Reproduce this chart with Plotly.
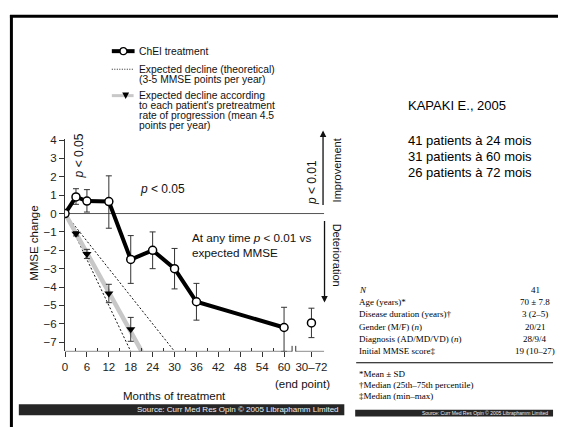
import plotly.graph_objects as go

W, H = 561, 427

# ---------------- data ----------------
chei_months = [0, 3, 6, 12, 18, 24, 30, 36, 60]
chei_values = [0, 0.9, 0.68, 0.65, -2.5, -2.0, -3.0, -4.8, -6.2]
chei_err_plus = [0, 0.45, 0.62, 1.4, 1.3, 1.0, 1.1, 1.0, 1.1]
chei_err_minus = [0, 0.4, 0.6, 1.45, 1.3, 1.0, 1.1, 1.0, 1.3]

endpoint_month = [67.5]
endpoint_value = [-5.95]
endpoint_err = [0.8]

patient_months = [3, 6, 12, 18]
patient_values = [-1.1, -2.2, -4.35, -6.3]
patient_err = [0.12, 0.25, 0.5, 0.65]

patient_trend_months = [0, 21]
patient_trend_values = [0, -7.5]

theory5_months = [0, 18]
theory5_values = [0, -7.5]
theory3_months = [0, 30]
theory3_values = [0, -7.5]

x_tick_vals = [0, 6, 12, 18, 24, 30, 36, 42, 48, 54, 60, 67.5]
x_tick_text = ["0", "6", "12", "18", "24", "30", "36", "42", "48", "54", "60", "30–72"]
x_minor_vals = [3, 9, 15, 21, 27, 33, 39, 45, 51, 57]
y_tick_vals = [-7, -6, -5, -4, -3, -2, -1, 0, 1, 2, 3, 4]

legend_lines = [
    "ChEI treatment",
    "Expected decline (theoretical)",
    "(3-5 MMSE points per year)",
    "Expected decline according",
    "to each patient's pretreatment",
    "rate of progression (mean 4.5",
    "points per year)",
]

study_lines = ["KAPAKI E., 2005", "41 patients à 24 mois", "31 patients à 60 mois", "26 patients à 72 mois"]

table_labels = ["<i>N</i>", "Age (years)*", "Disease duration (years)†", "Gender (M/F) (<i>n</i>)",
                "Diagnosis (AD/MD/VD) (<i>n</i>)", "Initial MMSE score‡"]
table_values = ["41", "70 ± 7.8", "3 (2–5)", "20/21", "28/9/4", "19 (10–27)"]
table_notes = ["*Mean ± SD", "†Median (25th–75th percentile)", "‡Median (min–max)"]

SOURCE = "Source: Curr Med Res Opin © 2005 Libraphamm Limited"

# ---------------- geometry helpers ----------------
def px(x):
    return x / W

def py(y):
    return 1 - y / H

X0_PX, PX_PER_MONTH = 62.7, 3.69
X_MAX = 71
Y_LOW, Y_HIGH = -7.5, 4.05
Y0_PX, PX_PER_UNIT = 211.0, 18.6

x_dom = [px(X0_PX), px(X0_PX + X_MAX * PX_PER_MONTH)]
y_dom = [py(Y0_PX - Y_LOW * PX_PER_UNIT), py(Y0_PX - Y_HIGH * PX_PER_UNIT)]

SANS = "Liberation Sans, Arial, sans-serif"
SERIF = "Liberation Serif, Times New Roman, serif"

fig = go.Figure()

# theoretical decline lines
for xm, yv in [(theory5_months, theory5_values), (theory3_months, theory3_values)]:
    fig.add_trace(go.Scatter(x=xm, y=yv, mode="lines",
                             line=dict(color="#111", width=1, dash="2px,2px"),
                             hoverinfo="skip"))

# patient-based trend (gray)
fig.add_trace(go.Scatter(x=patient_trend_months, y=patient_trend_values, mode="lines",
                         line=dict(color="#c8c8c8", width=4.5), hoverinfo="skip"))

# triangles
fig.add_trace(go.Scatter(x=patient_months, y=patient_values, mode="markers",
                         marker=dict(symbol="triangle-down", size=8, color="#000"),
                         error_y=dict(type="data", array=patient_err, color="#333",
                                      thickness=1, width=3)))

# zero reference line
fig.add_trace(go.Scatter(x=[0, X_MAX], y=[0, 0], mode="lines",
                         line=dict(color="#555", width=1), hoverinfo="skip"))

# ChEI treatment
fig.add_trace(go.Scatter(x=chei_months, y=chei_values, mode="lines+markers",
                         line=dict(color="#000", width=4),
                         marker=dict(symbol="circle", size=8, color="white",
                                     line=dict(color="#000", width=1.5)),
                         error_y=dict(type="data", symmetric=False, array=chei_err_plus,
                                      arrayminus=chei_err_minus, color="#333",
                                      thickness=1, width=3)))

# end point
fig.add_trace(go.Scatter(x=endpoint_month, y=endpoint_value, mode="markers",
                         marker=dict(symbol="circle", size=8, color="white",
                                     line=dict(color="#000", width=1.5)),
                         error_y=dict(type="data", array=endpoint_err, color="#333",
                                      thickness=1, width=3)))

shapes = []
# x axis line with break
BREAK_A, BREAK_B = 62.2, 63.2
shapes.append(dict(type="line", xref="x", yref="y", x0=0, x1=BREAK_A, y0=Y_LOW, y1=Y_LOW,
                   line=dict(color="#333", width=1)))
shapes.append(dict(type="line", xref="x", yref="y", x0=BREAK_B, x1=X_MAX, y0=Y_LOW, y1=Y_LOW,
                   line=dict(color="#333", width=1)))
for b in (BREAK_A, BREAK_B):
    shapes.append(dict(type="line", xref="x", yref="y", x0=b, x1=b, y0=Y_LOW - 0.3, y1=Y_LOW + 0.3,
                       line=dict(color="#333", width=1)))

# slide border
shapes.append(dict(type="line", xref="paper", yref="paper", x0=px(7), x1=1, y0=py(11.5), y1=py(11.5),
                   line=dict(color="#000", width=3)))
shapes.append(dict(type="line", xref="paper", yref="paper", x0=px(8.5), x1=px(8.5), y0=py(10), y1=0,
                   line=dict(color="#000", width=3)))

# source bars
shapes.append(dict(type="rect", xref="paper", yref="paper", x0=px(16), x1=px(345), y0=py(415), y1=py(404),
                   fillcolor="#262626", line=dict(width=0)))
shapes.append(dict(type="rect", xref="paper", yref="paper", x0=px(356), x1=px(556), y0=py(416.5), y1=py(409.5),
                   fillcolor="#262626", line=dict(width=0)))

# table rule
shapes.append(dict(type="line", xref="paper", yref="paper", x0=px(357), x1=px(556), y0=py(362), y1=py(362),
                   line=dict(color="#000", width=1.2)))

# legend keys
shapes.append(dict(type="line", xref="paper", yref="paper", x0=px(110), x1=px(133), y0=py(46.7), y1=py(46.7),
                   line=dict(color="#000", width=4)))
shapes.append(dict(type="circle", xref="paper", yref="paper", x0=px(118.3), x1=px(125.3),
                   y0=py(50.2), y1=py(43.2), fillcolor="white", line=dict(color="#000", width=1.3)))
shapes.append(dict(type="line", xref="paper", yref="paper", x0=px(110), x1=px(132), y0=py(65), y1=py(65),
                   line=dict(color="#222", width=1, dash="1px,1.5px")))
shapes.append(dict(type="line", xref="paper", yref="paper", x0=px(110), x1=px(132), y0=py(91.7), y1=py(91.7),
                   line=dict(color="#c8c8c8", width=3)))
shapes.append(dict(type="path", xref="paper", yref="paper",
                   path=f"M {px(120.5)} {py(88.5)} L {px(127.5)} {py(88.5)} L {px(124)} {py(95)} Z",
                   fillcolor="#000", line=dict(width=0)))

ann = []

def text(x, y, s, size, xanchor="left", family=SANS, color="#111", angle=0, yanchor="middle"):
    ann.append(dict(x=px(x), y=py(y), xref="paper", yref="paper", text=s, showarrow=False,
                    xanchor=xanchor, yanchor=yanchor, textangle=angle,
                    font=dict(family=family, size=size, color=color)))

# legend text
legend_y = [46.7, 65, 75.2, 91.7, 101.8, 111.9, 122]
for s, y in zip(legend_lines, legend_y):
    text(135.5, y, s, 10.3)

# in-plot annotations
text(77, 153, "<i>p</i> < 0.05", 12, xanchor="center", angle=-90)
text(136, 186.5, "<i>p</i> < 0.05", 12)
text(189, 235, "At any time <i>p</i> < 0.01 vs", 11.7)
text(189, 250, "expected MMSE", 11.7)

# right side arrows and labels
ann.append(dict(x=px(323.5), y=py(127), xref="paper", yref="paper", ax=0, ay=76,
                showarrow=True, arrowhead=2, arrowsize=1, arrowwidth=1.3, arrowcolor="#111", text=""))
ann.append(dict(x=px(325), y=py(301), xref="paper", yref="paper", ax=0, ay=-83,
                showarrow=True, arrowhead=2, arrowsize=1, arrowwidth=1.3, arrowcolor="#111", text=""))
text(312.5, 180, "<i>p</i> < 0.01", 12, xanchor="center", angle=-90)
text(338, 167, "Improvement", 11, xanchor="center", angle=-90)
text(338, 253, "Deterioration", 11, xanchor="center", angle=90)

# axis titles
text(32, 241, "MMSE change", 11.5, xanchor="center", angle=-90)
text(173, 396, "Months of treatment", 11.5, xanchor="center")
text(303, 383, "(end point)", 11.5, xanchor="center")

# study info
study_y = [101.7, 136.7, 153.3, 169.6]
for s, y in zip(study_lines, study_y):
    text(407, y, s, 13, color="#000")

# table
row_y = [288, 300.5, 313, 325.5, 338, 350.5]
for lab, val, y in zip(table_labels, table_values, row_y):
    text(358, y, lab, 9, family=SERIF, color="#000")
    text(538, y, val, 9, family=SERIF, color="#000", xanchor="center")
note_y = [373, 385, 396]
for s, y in zip(table_notes, note_y):
    text(358, y, s, 9, family=SERIF, color="#000")

# source captions
text(342, 409.5, SOURCE, 8, xanchor="right", color="#eee")
text(553, 413, SOURCE, 5, xanchor="right", color="#eee")

fig.update_layout(
    width=W, height=H, margin=dict(l=0, r=0, t=0, b=0),
    paper_bgcolor="white", plot_bgcolor="rgba(0,0,0,0)",
    showlegend=False,
    font=dict(family=SANS, size=11.5, color="#222"),
    shapes=shapes, annotations=ann,
    xaxis=dict(domain=x_dom, range=[0, X_MAX], tickmode="array", tickvals=x_tick_vals,
               ticktext=x_tick_text, ticks="outside", ticklen=5, tickcolor="#333",
               showline=False, showgrid=False, zeroline=False,
               tickfont=dict(size=11.5, color="#222"),
               minor=dict(tickmode="array", tickvals=x_minor_vals, ticks="inside",
                          ticklen=3, tickcolor="#333", showgrid=False)),
    yaxis=dict(domain=y_dom, range=[Y_LOW, Y_HIGH], tickmode="array", tickvals=y_tick_vals,
               ticks="outside", ticklen=5, tickcolor="#333", showline=True, linecolor="#333",
               linewidth=1, showgrid=False, zeroline=False,
               tickfont=dict(size=11.5, color="#222")),
)

fig.write_html("out.html", config={"displayModeBar": False},
               post_script="document.body.style.margin='0';document.body.style.overflow='hidden';")
